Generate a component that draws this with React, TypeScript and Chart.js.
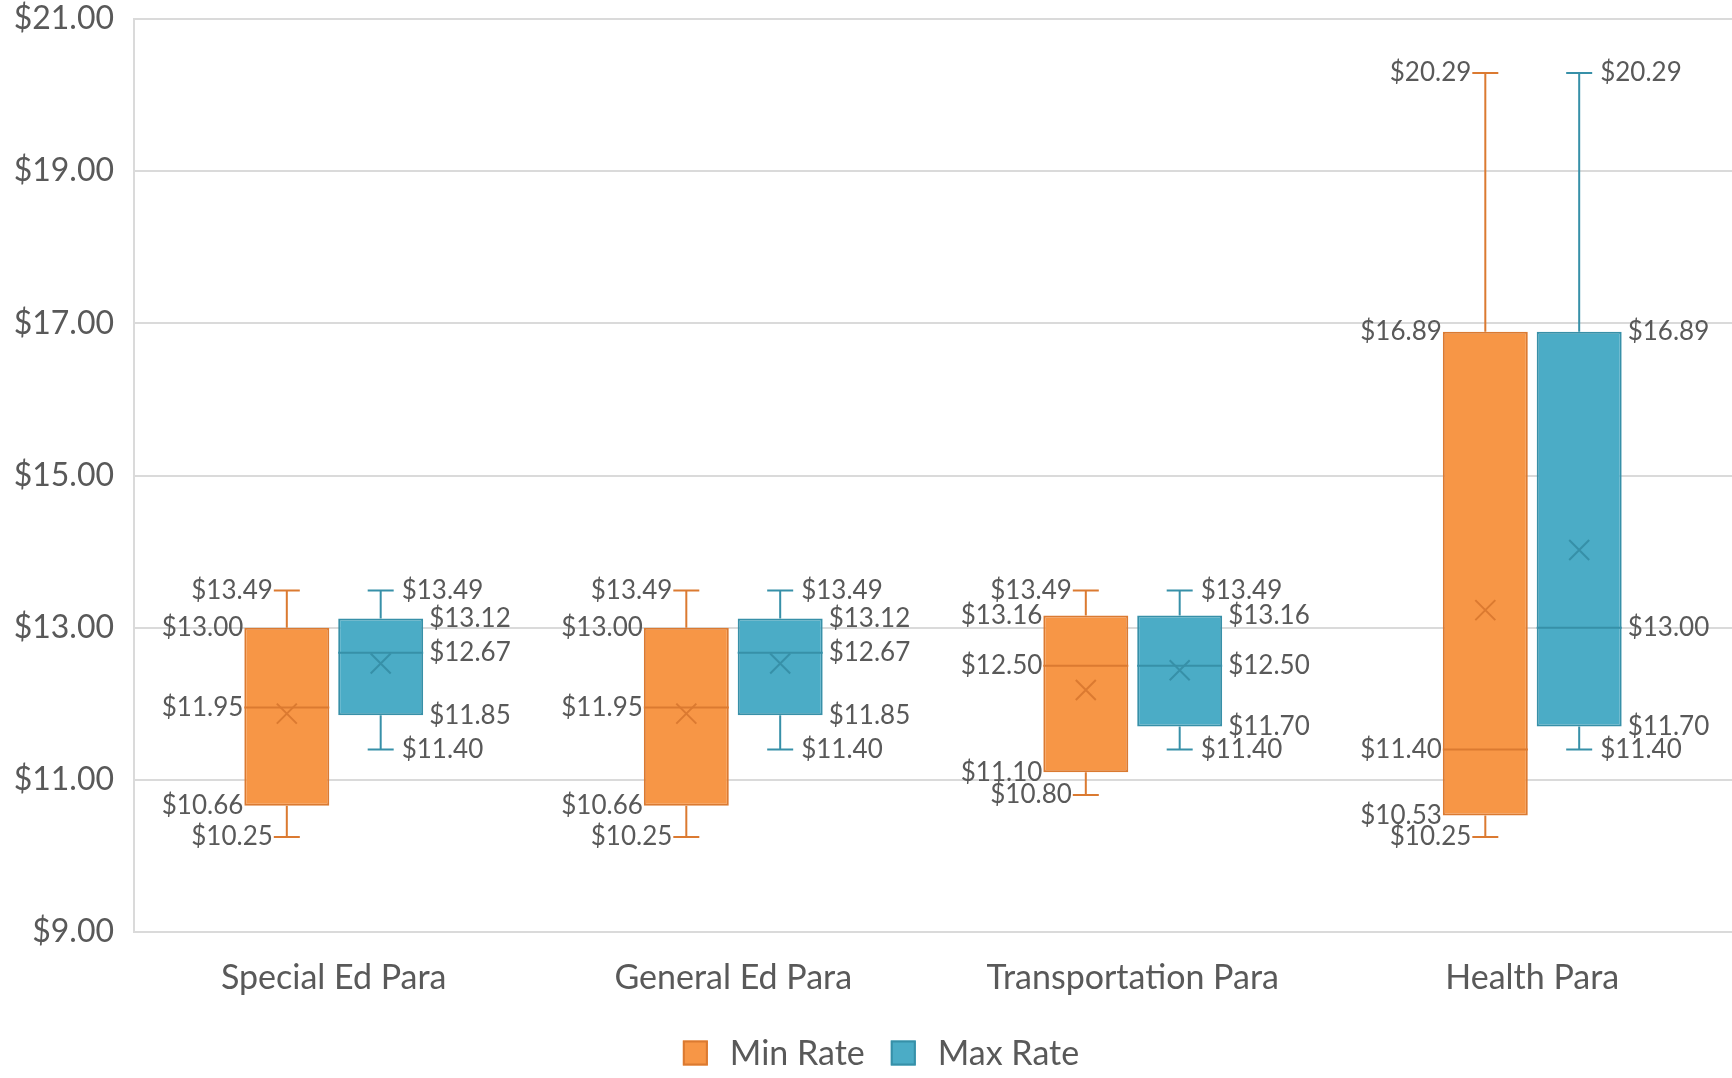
import React, { useEffect, useRef } from 'react';
import { Chart, registerables } from 'chart.js';

Chart.register(...registerables);

// ---- data ----
const categories = ['Special Ed Para', 'General Ed Para', 'Transportation Para', 'Health Para'];
const seriesNames = ['Min Rate', 'Max Rate'];

const minRateMin = [10.25, 10.25, 10.8, 10.25];
const minRateQ1 = [10.66, 10.66, 11.1, 10.53];
const minRateMedian = [11.95, 11.95, 12.5, 11.4];
const minRateQ3 = [13.0, 13.0, 13.16, 16.89];
const minRateMax = [13.49, 13.49, 13.49, 20.29];
const minRateMean = [11.87, 11.87, 12.18, 13.23];

const maxRateMin = [11.4, 11.4, 11.4, 11.4];
const maxRateQ1 = [11.85, 11.85, 11.7, 11.7];
const maxRateMedian = [12.67, 12.67, 12.5, 13.0];
const maxRateQ3 = [13.12, 13.12, 13.16, 16.89];
const maxRateMax = [13.49, 13.49, 13.49, 20.29];
const maxRateMean = [12.53, 12.53, 12.44, 14.02];

const yMin = 9;
const yMax = 21;
const yStep = 2;

// ---- styles ----
const FONT = 'Lato';
const TEXT = '#595959';
const GRID = '#DADADA';
const fills = ['#F79646', '#4BACC6'];
const lines = ['#DB7A31', '#3790A8'];

const stats = [
  { min: minRateMin, q1: minRateQ1, med: minRateMedian, q3: minRateQ3, max: minRateMax, mean: minRateMean },
  { min: maxRateMin, q1: maxRateQ1, med: maxRateMedian, q3: maxRateQ3, max: maxRateMax, mean: maxRateMean },
];

const money = (v: number) => '$' + v.toFixed(2);

const boxPlugin = {
  id: 'boxWhisker',
  afterDatasetsDraw(chart: any) {
    const { ctx } = chart;
    const y = chart.scales.y;
    chart.data.datasets.forEach((_ds: any, di: number) => {
      const meta = chart.getDatasetMeta(di);
      const s = stats[di];
      const capHalf = 13;
      meta.data.forEach((bar: any, i: number) => {
        const { x, width } = bar.getProps(['x', 'width'], true);
        const pMin = y.getPixelForValue(s.min[i]);
        const pQ1 = y.getPixelForValue(s.q1[i]);
        const pMed = y.getPixelForValue(s.med[i]);
        const pQ3 = y.getPixelForValue(s.q3[i]);
        const pMax = y.getPixelForValue(s.max[i]);
        const pMean = y.getPixelForValue(s.mean[i]);
        ctx.save();
        ctx.strokeStyle = lines[di];
        ctx.lineWidth = 2;
        ctx.beginPath();
        ctx.moveTo(x, pQ3);
        ctx.lineTo(x, pMax);
        ctx.moveTo(x - capHalf, pMax);
        ctx.lineTo(x + capHalf, pMax);
        ctx.moveTo(x, pQ1);
        ctx.lineTo(x, pMin);
        ctx.moveTo(x - capHalf, pMin);
        ctx.lineTo(x + capHalf, pMin);
        ctx.moveTo(x - width / 2, pMed);
        ctx.lineTo(x + width / 2, pMed);
        ctx.stroke();
        const m = 10;
        ctx.lineWidth = 2;
        ctx.beginPath();
        ctx.moveTo(x - m, pMean - m);
        ctx.lineTo(x + m, pMean + m);
        ctx.moveTo(x + m, pMean - m);
        ctx.lineTo(x - m, pMean + m);
        ctx.stroke();

        ctx.fillStyle = TEXT;
        ctx.font = `26px ${FONT}`;
        ctx.textBaseline = 'middle';
        if (di === 0) {
          ctx.textAlign = 'right';
          ctx.fillText(money(s.max[i]), x - capHalf - 1, pMax);
          ctx.fillText(money(s.min[i]), x - capHalf - 1, pMin);
          ctx.fillText(money(s.q3[i]), x - width / 2 - 1, pQ3);
          ctx.fillText(money(s.med[i]), x - width / 2 - 1, pMed);
          ctx.fillText(money(s.q1[i]), x - width / 2 - 1, pQ1);
        } else {
          ctx.textAlign = 'left';
          ctx.fillText(money(s.max[i]), x + capHalf + 8, pMax);
          ctx.fillText(money(s.min[i]), x + capHalf + 8, pMin);
          ctx.fillText(money(s.q3[i]), x + width / 2 + 6, pQ3);
          ctx.fillText(money(s.med[i]), x + width / 2 + 6, pMed);
          ctx.fillText(money(s.q1[i]), x + width / 2 + 6, pQ1);
        }
        ctx.restore();
      });
    });
  },
};

// custom legend drawn under the x axis labels
const legendPlugin = {
  id: 'customLegend',
  afterDraw(chart: any) {
    const { ctx } = chart;
    const box = 25;
    const gapText = 22;
    const gapItem = 26;
    const cy = 1053;
    const centerX = 881;
    ctx.save();
    ctx.font = `34px ${FONT}`;
    const widths = seriesNames.map((n) => box + gapText + ctx.measureText(n).width);
    const total = widths.reduce((a, b) => a + b, 0) + gapItem * (seriesNames.length - 1);
    let x = centerX - total / 2;
    seriesNames.forEach((n, i) => {
      ctx.fillStyle = fills[i];
      ctx.fillRect(x, cy - box / 2, box, box);
      ctx.strokeStyle = lines[i];
      ctx.lineWidth = 2;
      ctx.strokeRect(x + 1, cy - box / 2 + 1, box - 2, box - 2);
      ctx.fillStyle = TEXT;
      ctx.textAlign = 'left';
      ctx.textBaseline = 'middle';
      ctx.fillText(n, x + box + gapText, cy + 1);
      x += widths[i] + gapItem;
    });
    ctx.restore();
  },
};

export default function App() {
  const ref = useRef<HTMLCanvasElement | null>(null);

  useEffect(() => {
    if (!ref.current) return;
    const chart = new Chart(ref.current, {
      type: 'bar',
      data: {
        labels: categories,
        datasets: stats.map((s, di) => ({
          label: seriesNames[di],
          data: s.q1.map((q1, i) => [q1, s.q3[i]]),
          backgroundColor: fills[di],
          borderColor: lines[di],
          borderWidth: 2,
          borderSkipped: false,
          categoryPercentage: 0.47,
          barPercentage: 0.905,
        })),
      },
      options: {
        responsive: false,
        animation: false,
        layout: { padding: { top: 19, left: 0, right: 0, bottom: 0 } },
        plugins: {
          tooltip: { enabled: false },
          legend: { display: false },
        },
        scales: {
          x: {
            grid: { display: false, drawTicks: false },
            border: { display: false },
            ticks: { font: { family: FONT, size: 34 }, color: TEXT, padding: 26 },
            afterFit: (scale: any) => {
              scale.height = 146;
            },
          },
          y: {
            min: yMin,
            max: yMax,
            grid: { color: GRID, lineWidth: 2, drawTicks: false },
            border: { display: true, color: GRID, width: 2 },
            ticks: {
              stepSize: yStep,
              font: { family: FONT, size: 32 },
              color: TEXT,
              padding: 20,
              callback: (v: any) => money(Number(v)),
            },
            afterFit: (scale: any) => {
              scale.width = 134;
              scale.paddingTop = 0;
              scale.paddingBottom = 0;
            },
          },
        },
      },
      plugins: [boxPlugin, legendPlugin],
    });
    return () => chart.destroy();
  }, []);

  return (
    <div style={{ position: 'absolute', left: 0, top: 0, width: 1732, height: 1078, background: '#fff' }}>
      <canvas ref={ref} width={1732} height={1078} />
    </div>
  );
}
